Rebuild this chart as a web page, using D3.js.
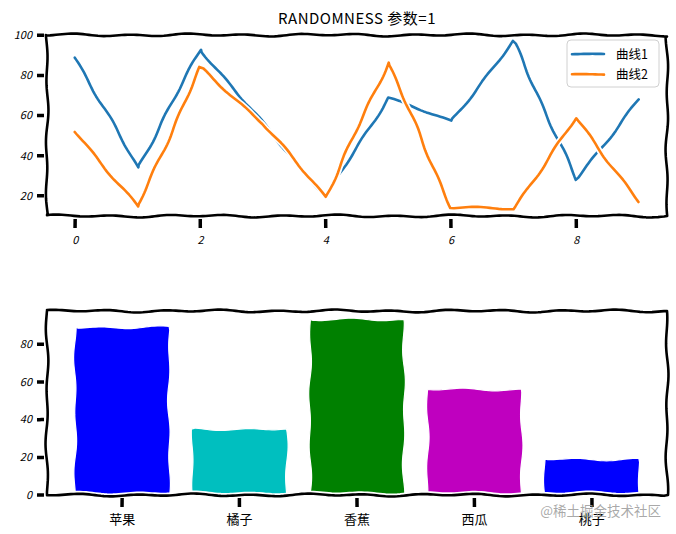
<!DOCTYPE html>
<html><head><meta charset="utf-8">
<script src="https://cdn.jsdelivr.net/npm/d3@7"></script>
<style>
html,body{margin:0;padding:0;background:#fff;}
svg{display:block;}
text{font-family:"Noto Sans CJK SC","DejaVu Sans",sans-serif;fill:#000;}
</style></head>
<body>
<svg id="c" width="676" height="534"></svg>
<script>
// ---- data ----
const xIndex = [0,1,2,3,4,5,6,7,8,9];
const curve1 = [89, 34, 93, 56, 19.5, 69, 57, 97, 28, 68];
const curve2 = [52, 14.5, 84, 56, 19.5, 86.5, 14, 13.5, 58.7, 17];
const seriesNames = ["曲线1", "曲线2"];
const seriesColors = ["#1f77b4", "#ff7f0e"];
const fruits = ["苹果", "橘子", "香蕉", "西瓜", "桃子"];
const fruitValues = [89, 35, 93, 56, 19];
const fruitColors = ["#0000ff", "#00bfbf", "#008000", "#bf00bf", "#0000ff"];
const topXTicks = [0, 2, 4, 6, 8];
const topYTicks = [20, 40, 60, 80, 100];
const botYTicks = [0, 20, 40, 60, 80];
const titleText = "RANDOMNESS 参数=1";
const watermark = "@稀土掘金技术社区";

const svg = d3.select("#c");

// deterministic hand-drawn wiggle (styling only)
function noise(s, seed){
  return 0.6*Math.sin(s/9 + seed) + 0.4*Math.sin(s/21 + seed*2.3);
}
function sketch(pts, amp, seed){
  const out = [];
  let s = 0;
  for (let i=0;i<pts.length-1;i++){
    const [x0,y0]=pts[i],[x1,y1]=pts[i+1];
    const L = Math.hypot(x1-x0,y1-y0);
    if (L===0) continue;
    const nx = -(y1-y0)/L, ny = (x1-x0)/L;
    const n = Math.max(1, Math.ceil(L/3));
    for (let k=(i===0?0:1);k<=n;k++){
      const t=k/n;
      const ss = s + t*L;
      const o = amp*noise(ss, seed);
      out.push([x0+(x1-x0)*t + nx*o, y0+(y1-y0)*t + ny*o]);
    }
    s += L;
  }
  return out;
}
const line = d3.line();
function drawPath(g, pts, opts){
  const d = line(sketch(pts, opts.amp ?? 1.2, opts.seed ?? 0)) + (opts.close ? "Z" : "");
  if (opts.halo) g.append("path").attr("d", d).attr("fill", "none").attr("stroke", "#fff").attr("stroke-width", opts.halo).attr("stroke-linejoin","round").attr("stroke-linecap","round");
  return g.append("path").attr("d", d)
    .attr("fill", opts.fill || "none")
    .attr("stroke", opts.stroke || "none")
    .attr("stroke-width", opts.width || 0)
    .attr("stroke-linejoin","round").attr("stroke-linecap", opts.cap || "round");
}

const L = 47, R = 667;

// ---------- TOP CHART ----------
const tTop = 35, tBot = 216;
const xT = d3.scaleLinear().domain([-0.45, 9.45]).range([L, R]);
const yT = d3.scaleLinear().domain([9.9, 100.2]).range([tBot, tTop]);
const gT = svg.append("g");

// series
[curve1, curve2].forEach((vals, si) => {
  const pts = xIndex.map((x,i)=>[xT(x), yT(vals[i])]);
  drawPath(gT, pts, {amp:1.4, seed: 3+si*5, stroke: seriesColors[si], width: 2.6, halo: 6});
});

// frame
const frameT = [[L,tTop],[R,tTop],[R,tBot],[L,tBot],[L,tTop]];
drawPath(gT, frameT, {amp:1.5, seed:1.7, stroke:"#000", width:2.6, halo:6});

// ticks
topYTicks.forEach((v,i)=>{
  const y = yT(v);
  drawPath(gT, [[L-10,y],[L-3,y]], {amp:0.2, seed:i, stroke:"#000", width:3.5, cap:"butt"});
  gT.append("text").attr("x", L-15).attr("y", y).attr("dy","0.35em")
    .attr("text-anchor","end").attr("font-size", 11).attr("font-style","italic").text(v);
});
topXTicks.forEach((v,i)=>{
  const x = xT(v);
  drawPath(gT, [[x,tBot+3],[x,tBot+12]], {amp:0.2, seed:i, stroke:"#000", width:3.5, cap:"butt"});
  gT.append("text").attr("x", x).attr("y", tBot+28)
    .attr("text-anchor","middle").attr("font-size", 11).attr("font-style","italic").text(v);
});

// title
gT.append("text").attr("x", (L+R)/2).attr("y", 24).attr("text-anchor","middle")
  .attr("font-size", 15).attr("letter-spacing", 0.5).text(titleText);

// legend
const lgX = 567, lgY = 40, lgW = 92, lgH = 47;
const lg = gT.append("g");
lg.append("rect").attr("x", lgX).attr("y", lgY).attr("width", lgW).attr("height", lgH)
  .attr("rx", 4).attr("fill","#fff").attr("fill-opacity",0.85).attr("stroke","#d0d0d0").attr("stroke-width",1);
seriesNames.forEach((name, i)=>{
  const y = 54 + i*20.5;
  drawPath(lg, [[572,y],[604,y]], {amp:0.4, seed:i+9, stroke: seriesColors[i], width: 2.6});
  lg.append("text").attr("x", 616).attr("y", y).attr("dy","0.36em").attr("font-size", 12.5).text(name);
});

// ---------- BOTTOM CHART ----------
const bTop = 311, bBot = 495;
const xB = d3.scaleLinear().domain([-0.64, 4.64]).range([L, R]);
const yB = d3.scaleLinear().domain([0, 97.65]).range([bBot, bTop]);
const gB = svg.append("g");

fruits.forEach((f,i)=>{
  const x0 = xB(i-0.4), x1 = xB(i+0.4), y0 = yB(0), y1 = yB(fruitValues[i]);
  const pts = [[x0,y0],[x0,y1],[x1,y1],[x1,y0],[x0,y0]];
  drawPath(gB, pts, {amp:1.6, seed:2+i*1.9, fill: fruitColors[i], stroke:"#fff", width:1.2, close:true});
});

const frameB = [[L,bTop],[R,bTop],[R,bBot],[L,bBot],[L,bTop]];
drawPath(gB, frameB, {amp:1.5, seed:4.2, stroke:"#000", width:2.6, halo:6});

botYTicks.forEach((v,i)=>{
  const y = yB(v);
  drawPath(gB, [[L-10,y],[L-3,y]], {amp:0.2, seed:i, stroke:"#000", width:3.5, cap:"butt"});
  gB.append("text").attr("x", L-15).attr("y", y).attr("dy","0.35em")
    .attr("text-anchor","end").attr("font-size", 11).attr("font-style","italic").text(v);
});
fruits.forEach((f,i)=>{
  const x = xB(i);
  drawPath(gB, [[x,bBot+3],[x,bBot+12]], {amp:0.2, seed:i, stroke:"#000", width:3.5, cap:"butt"});
  gB.append("text").attr("x", x).attr("y", bBot+29)
    .attr("text-anchor","middle").attr("font-size", 13).text(f);
});

// watermark
svg.append("text").attr("x", 661).attr("y", 516).attr("text-anchor","end")
  .attr("font-size", 13.5).style("fill","#9a9a9a").attr("fill-opacity",0.85).text(watermark);
</script>
</body></html>
